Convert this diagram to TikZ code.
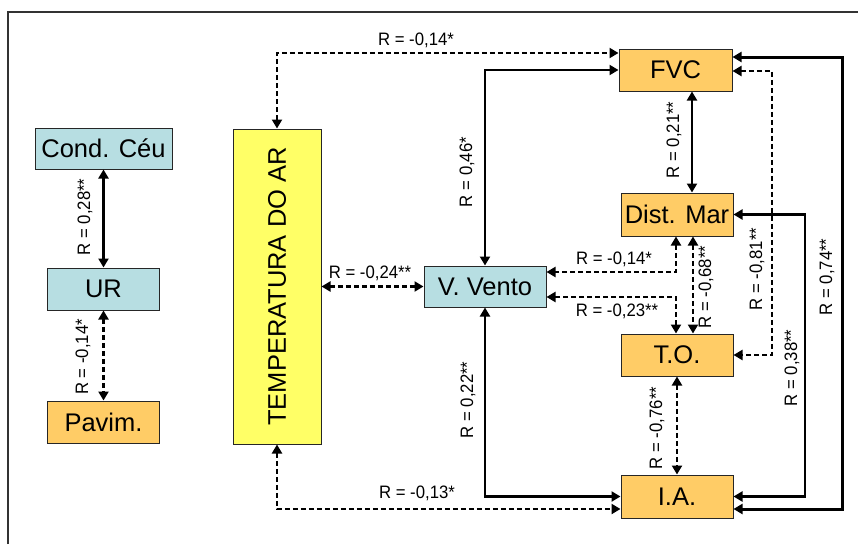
\documentclass[tikz,border=0pt]{standalone}
\usepackage{fontspec}
\usepackage{graphicx}
\setmainfont{Liberation Sans}
\usetikzlibrary{arrows.meta}
\definecolor{boxblue}{RGB}{183,222,226}
\definecolor{boxorange}{RGB}{255,204,102}
\definecolor{boxyellow}{RGB}{255,255,102}
\newcommand{\rlab}[1]{\scalebox{0.93}[1]{#1}}
\begin{document}
\begin{tikzpicture}[x=1pt,y=-1pt,
  box/.style={draw=black!85,line width=1pt,inner sep=0pt,font=\fontsize{25.5}{30}\selectfont},
  bluebox/.style={box,fill=boxblue},
  orangebox/.style={box,fill=boxorange},
  yellowbox/.style={box,fill=boxyellow},
  lbl/.style={inner sep=0pt,font=\fontsize{18}{20}\selectfont},
  vlbl/.style={lbl,rotate=90},
  tip/.style={{Triangle[length=9pt,width=10pt]}-{Triangle[length=9pt,width=10pt]}},
  solidarr/.style={tip,line width=2.2pt},
  thickarr/.style={tip,line width=3pt},
  dasharr/.style={tip,line width=2.2pt,dash pattern=on 5pt off 3pt}]
\useasboundingbox (0,0) rectangle (858,544);
\fill[white] (0,0) rectangle (858,544);
\draw[black!80,line width=1.6pt] (8,544) -- (8,12) -- (858,12);

% nodes
\node[bluebox,minimum width=137pt,minimum height=41pt] (ceu) at (103.5,148.5) {Cond. Céu};
\node[bluebox,minimum width=112pt,minimum height=42pt] (ur) at (103.5,289) {UR};
\node[orangebox,minimum width=112pt,minimum height=42pt] (pav) at (103.5,422) {Pavim.};
\node[yellowbox,minimum width=88pt,minimum height=315pt] (temp) at (277,286.5) {\rotatebox{90}{TEMPERATURA DO AR}};
\node[orangebox,minimum width=113pt,minimum height=42pt] (fvc) at (675.5,70) {FVC};
\node[orangebox,minimum width=112pt,minimum height=43pt] (mar) at (677,214.5) {Dist. Mar};
\node[bluebox,minimum width=122pt,minimum height=41pt] (vento) at (485,286.5) {V. Vento};
\node[orangebox,minimum width=112pt,minimum height=42pt] (to) at (677,355) {T.O.};
\node[orangebox,minimum width=112pt,minimum height=43pt] (ia) at (677,496.5) {I.A.};

% connectors
\draw[solidarr] (ceu.south) -- (ceu.south |- ur.north);
\draw[dasharr] (ur.south) -- (pav.north);
\draw[dasharr] (temp.north) |- (fvc.west |- 0,53);
\draw[dasharr] (temp.east) -- (vento.west);
\draw[dasharr] (temp.south) |- (ia.west |- 0,509);
\draw[solidarr] (vento.north) |- (fvc.west);
\draw[solidarr] (vento.south) |- (ia.west);
\draw[solidarr] (fvc.south -| 692,0) -- (mar.north -| 692,0);
\draw[dasharr] (mar.south -| 676,0) |- (vento.east |- 0,272);
\draw[dasharr] (to.north -| 676,0) |- (vento.east |- 0,297);
\draw[dasharr] (mar.south -| 693,0) -- (to.north -| 693,0);
\draw[dasharr] (fvc.east |- 0,71) -| (to.east -| 772,0) -- (to.east);
\draw[solidarr] (mar.east) -| (ia.east -| 805,0) -- (ia.east);
\draw[thickarr] (fvc.east |- 0,57) -| (842,509) -- (ia.east |- 0,509);
\draw[dasharr] (to.south) -- (ia.north);

% labels
\node[vlbl] (l1) at (85,217) {\rlab{R = 0,28**}};
\node[vlbl] (l2) at (83,357) {\rlab{R = -0,14*}};
\node[lbl] (l3) at (416,40) {\rlab{R = -0,14*}};
\node[lbl] (l4) at (370,273) {\rlab{R = -0,24**}};
\node[lbl] (l5) at (417,493) {\rlab{R = -0,13*}};
\node[vlbl] (l6) at (467,172) {\rlab{R = 0,46*}};
\node[vlbl] (l7) at (468,400) {\rlab{R = 0,22**}};
\node[vlbl] (l8) at (674,140) {\rlab{R = 0,21**}};
\node[lbl] (l9) at (614,259) {\rlab{R = -0,14*}};
\node[lbl] (l10) at (617,311) {\rlab{R = -0,23**}};
\node[vlbl] (l11) at (706,287) {\rlab{R = -0,68**}};
\node[vlbl] (l12) at (757,269) {\rlab{R = -0,81**}};
\node[vlbl] (l13) at (792,368) {\rlab{R = 0,38**}};
\node[vlbl] (l14) at (827,277) {\rlab{R = 0,74**}};
\node[vlbl] (l15) at (657,428) {\rlab{R = -0,76**}};
\end{tikzpicture}
\end{document}
